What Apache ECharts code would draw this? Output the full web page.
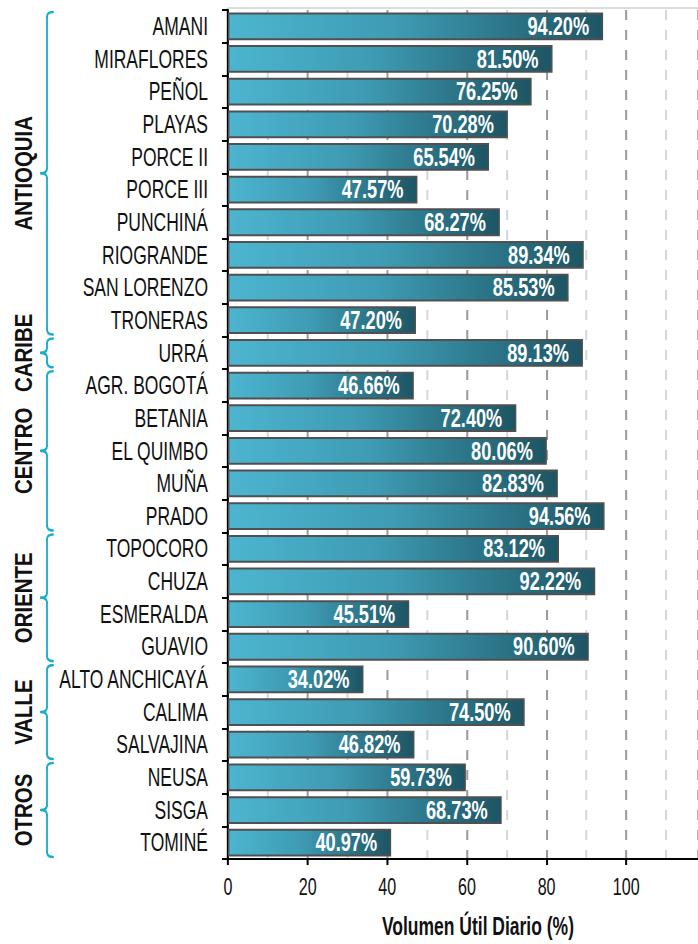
<!DOCTYPE html>
<html>
<head>
<meta charset="utf-8">
<script src="https://cdn.jsdelivr.net/npm/echarts@6/dist/echarts.min.js"></script>
<style>
  html, body { margin: 0; padding: 0; background: #ffffff; overflow: hidden; width: 698px; height: 944px; }
  /* the chart is laid out wide and condensed horizontally, giving narrow lettering */
  #chart { width: 997.14px; height: 944px; transform: scaleX(0.7); transform-origin: 0 0; }
</style>
</head>
<body>
<div id="chart"></div>
<script>
// Reservoirs (top to bottom) and their useful daily volume in percent
const reservoirs = [
  'AMANI', 'MIRAFLORES', 'PEÑOL', 'PLAYAS', 'PORCE II', 'PORCE III', 'PUNCHINÁ',
  'RIOGRANDE', 'SAN LORENZO', 'TRONERAS', 'URRÁ', 'AGR. BOGOTÁ', 'BETANIA',
  'EL QUIMBO', 'MUÑA', 'PRADO', 'TOPOCORO', 'CHUZA', 'ESMERALDA', 'GUAVIO',
  'ALTO ANCHICAYÁ', 'CALIMA', 'SALVAJINA', 'NEUSA', 'SISGA', 'TOMINÉ'
];
const volumePct = [
  94.20, 81.50, 76.25, 70.28, 65.54, 47.57, 68.27,
  89.34, 85.53, 47.20, 89.13, 46.66, 72.40,
  80.06, 82.83, 94.56, 83.12, 92.22, 45.51, 90.60,
  34.02, 74.50, 46.82, 59.73, 68.73, 40.97
];
// Regions and how many consecutive reservoirs each one groups
const regions = ['ANTIOQUIA', 'CARIBE', 'CENTRO', 'ORIENTE', 'VALLE', 'OTROS'];
const regionCounts = [10, 1, 5, 4, 3, 3];

const axisName = 'Volumen Útil Diario (%)';

const SX = 0.7;                 // horizontal condensing of the whole drawing
const hx = v => v / SX;         // page pixels -> layout pixels (horizontal only)
const font = "'Liberation Sans', Arial, sans-serif";

const chart = echarts.init(document.getElementById('chart'), null, { renderer: 'svg' });

const option = {
  animation: false,
  backgroundColor: '#ffffff',
  grid: { left: hx(228), right: hx(-4), top: 10, bottom: 80, containLabel: false },
  xAxis: [
    {
      type: 'value', min: 0, max: 118, interval: 20,
      axisLine: { show: true, lineStyle: { color: '#000', width: 2 } },
      axisTick: { show: true, length: 6, lineStyle: { color: '#000', width: hx(2) } },
      axisLabel: { showMaxLabel: false, margin: 16, color: '#111', fontSize: 23, fontFamily: font },
      splitLine: { show: false },
      name: axisName, nameLocation: 'middle', nameGap: 55,
      nameTextStyle: { color: '#111', fontSize: 25, fontWeight: 'bold', fontFamily: font, padding: [0, 0, 0, hx(30)] }
    },
    {
      // dashed reference lines every 10 %, alternating dark/light
      type: 'value', min: 0, max: 118, interval: 10,
      axisLine: { show: false }, axisTick: { show: false }, axisLabel: { show: false },
      splitLine: { show: true, lineStyle: { color: ['#9a9a9a', '#d6d6d6'], width: hx(2), type: [10, 10] } }
    },
    {
      // light frame line along the top of the plot
      type: 'value', position: 'top', offset: 2, min: 0, max: 118,
      axisLine: { show: true, lineStyle: { color: '#dcdcdc', width: 2 } },
      axisTick: { show: false }, axisLabel: { show: false }, splitLine: { show: false }
    }
  ],
  yAxis: {
    type: 'category', inverse: true, data: reservoirs,
    axisLine: { show: true, lineStyle: { color: '#000', width: hx(2) } },
    axisTick: { show: true, length: hx(6), lineStyle: { color: '#000', width: 2 } },
    axisLabel: { margin: hx(20), color: '#111', fontSize: 25, fontFamily: font }
  },
  series: [{
    type: 'bar',
    xAxisIndex: 0,
    data: volumePct,
    barCategoryGap: '15%',
    itemStyle: {
      borderColor: '#505050', borderWidth: 2,
      color: new echarts.graphic.LinearGradient(0, 0, 1, 0, [
        { offset: 0, color: '#4db5d0' },
        { offset: 0.45, color: '#3e9bb3' },
        { offset: 1, color: '#1d5564' }
      ])
    },
    label: {
      show: true, position: 'insideRight', distance: hx(14),
      formatter: p => p.value.toFixed(2) + '%',
      color: '#ffffff', fontSize: 26, fontWeight: 'bold', fontFamily: font
    }
  }]
};
chart.setOption(option);

// Region braces and labels, placed from the category axis scale
function drawRegions() {
  const elements = [];
  const yOf = name => chart.convertToPixel({ yAxisIndex: 0 }, name);
  const step = yOf(reservoirs[1]) - yOf(reservoirs[0]);
  const braceStyle = { fill: null, stroke: '#1aadcc', lineWidth: 2.6, lineCap: 'round' };
  const xl = hx(47), xe = hx(53), xt = hx(41), r = 5;
  let start = 0;
  regions.forEach((name, i) => {
    const end = start + regionCounts[i] - 1;
    const y0 = yOf(reservoirs[start]) - step / 2 + 2;
    const y1 = yOf(reservoirs[end]) + step / 2 - 2;
    const ym = (y0 + y1) / 2;
    const curve = (x1, y1c, cx, cy, x2, y2) => ({
      type: 'bezierCurve', shape: { x1: x1, y1: y1c, cpx1: cx, cpy1: cy, x2: x2, y2: y2 }, style: braceStyle
    });
    const seg = (a, b) => ({ type: 'line', shape: { x1: xl, y1: a, x2: xl, y2: b }, style: braceStyle });
    elements.push(
      curve(xe, y0, xl, y0, xl, y0 + r),
      seg(y0 + r, ym - r),
      curve(xl, ym - r, xl, ym, xt, ym),
      curve(xt, ym, xl, ym, xl, ym + r),
      seg(ym + r, y1 - r),
      curve(xl, y1 - r, xl, y1, xe, y1)
    );
    elements.push({
      type: 'text', x: hx(24), y: ym, rotation: Math.PI / 2, scaleX: 0.93, scaleY: 1.5,
      style: {
        text: name, fill: '#111', fontSize: 22, fontWeight: 'bold', fontFamily: font,
        align: 'center', verticalAlign: 'middle'
      }
    });
    start = end + 1;
  });
  chart.setOption({ graphic: elements });
}
drawRegions();
</script>
</body>
</html>
